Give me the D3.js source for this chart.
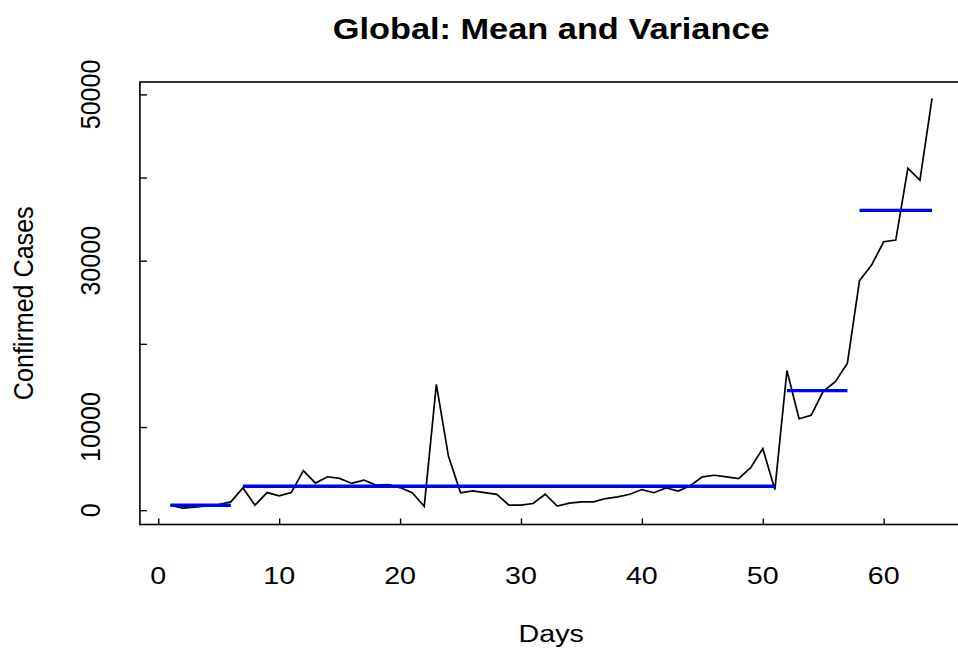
<!DOCTYPE html>
<html><head><meta charset="utf-8">
<script src="https://cdn.jsdelivr.net/npm/d3@7"></script>
<style>body{margin:0;background:#fff}svg{display:block}text{font-family:"Liberation Sans",Arial,sans-serif}</style>
</head><body><div id="chart"></div>
<script>
const days = [1,2,3,4,5,6,7,8,9,10,11,12,13,14,15,16,17,18,19,20,21,22,23,24,25,26,27,28,29,30,31,32,33,34,35,36,37,38,39,40,41,42,43,44,45,46,47,48,49,50,51,52,53,54,55,56,57,58,59,60,61,62,63,64];
const cases = [600,250,360,520,680,1000,2680,600,2120,1720,2120,4760,3260,4020,3820,3220,3620,3020,3080,2720,2100,480,15120,6500,2100,2320,2120,1900,600,600,800,1920,500,840,1000,1000,1400,1600,1920,2480,2100,2680,2300,2940,4000,4200,4000,3800,5120,7400,2480,16800,11000,11400,14300,15450,17680,27600,29480,32280,32480,41120,39680,49520];
const segStart = [1,7,52,58];
const segEnd = [6,51,57,64];
const segMean = [600,2880,14380,36050];
const xTicks = [0,10,20,30,40,50,60];
const xTickLabels = ["0","10","20","30","40","50","60"];
const yTicks = [0,10000,20000,30000,40000,50000];
const yTickLabels = ["0","10000","","30000","","50000"];
const titleText = "Global: Mean and Variance";
const xTitle = "Days";
const yTitle = "Confirmed Cases";

const W = 958, H = 654;
const svg = d3.select("#chart").append("svg").attr("width", W).attr("height", H);

const xe = d3.extent(days), ye = d3.extent(cases);
const xp = (xe[1]-xe[0])*0.04, yp = (ye[1]-ye[0])*0.04;
const x = d3.scaleLinear().domain([xe[0]-xp, xe[1]+xp]).range([139.9, 962.5]);
const y = d3.scaleLinear().domain([ye[0]-yp, ye[1]+yp]).range([524.5, 82]);

const wide = 1.16, tall = 0.88;
function squeeze(sel, f){ sel.each(function(){ const l=this.getComputedTextLength(); if(l>0){ d3.select(this).attr("textLength", l*f).attr("lengthAdjust","spacingAndGlyphs"); } }); }

// frame
svg.append("rect").attr("x", x.range()[0]).attr("y", y.range()[1])
  .attr("width", x.range()[1]-x.range()[0]).attr("height", y.range()[0]-y.range()[1])
  .attr("fill","none").attr("stroke","#000").attr("stroke-width",1.6);

// x axis (ticks inward)
const xAxis = d3.axisTop(x).tickValues(xTicks).tickSize(6).tickFormat("");
const gx = svg.append("g").attr("transform", `translate(0,${y.range()[0]})`).call(xAxis);
gx.select(".domain").remove();
gx.selectAll(".tick line").attr("stroke","#000").attr("stroke-width",1.4);
svg.append("g").selectAll("text").data(xTicks).join("text")
  .attr("x", d=>x(d)).attr("y", 584).attr("text-anchor","middle")
  .attr("font-size", 24.7).text((d,i)=>xTickLabels[i]).call(squeeze, wide);

// y axis
const yAxis = d3.axisRight(y).tickValues(yTicks).tickSize(7).tickFormat("");
const gy = svg.append("g").attr("transform", `translate(${x.range()[0]},0)`).call(yAxis);
gy.select(".domain").remove();
gy.selectAll(".tick line").attr("stroke","#000").attr("stroke-width",1.4);
svg.append("g").selectAll("text").data(yTicks).join("text")
  .attr("transform", d=>`translate(100,${y(d)}) rotate(-90)`).attr("text-anchor","middle")
  .attr("font-size", 28.5).text((d,i)=>yTickLabels[i]).call(squeeze, tall);

// titles
svg.append("text").attr("x", (x.range()[0]+x.range()[1])/2).attr("y", 39).attr("text-anchor","middle")
  .attr("font-size", 29.6).attr("font-weight","bold").text(titleText).call(squeeze, wide);
svg.append("text").attr("x", (x.range()[0]+x.range()[1])/2).attr("y", 642).attr("text-anchor","middle")
  .attr("font-size", 24.7).text(xTitle).call(squeeze, wide);
svg.append("text").attr("transform", `translate(33,${(y.range()[0]+y.range()[1])/2}) rotate(-90)`).attr("text-anchor","middle")
  .attr("font-size", 28.5).text(yTitle).call(squeeze, tall);

// data line
svg.append("path").datum(days.map((d,i)=>[d,cases[i]]))
  .attr("fill","none").attr("stroke","#000").attr("stroke-width",1.7).attr("stroke-linejoin","miter")
  .attr("d", d3.line().x(d=>x(d[0])).y(d=>y(d[1])));

// mean segments
svg.append("g").selectAll("line").data(segMean).join("line")
  .attr("x1",(d,i)=>x(segStart[i])).attr("x2",(d,i)=>x(segEnd[i]))
  .attr("y1",d=>y(d)).attr("y2",d=>y(d))
  .attr("stroke","#0000ff").attr("stroke-width",3.4);
</script></body></html>
